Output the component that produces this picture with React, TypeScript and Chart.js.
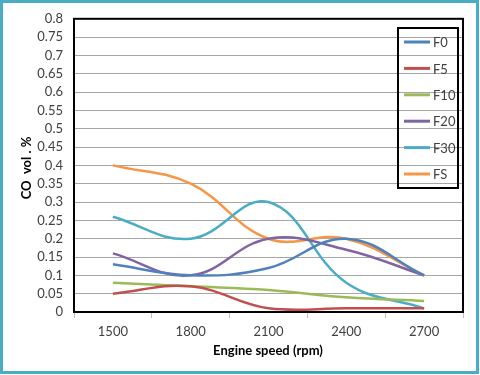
import React, { useEffect, useRef } from "react";
import { Chart, registerables } from "chart.js";

Chart.register(...registerables);

const speeds = ["1500", "1800", "2100", "2400", "2700"];
const F0 = [0.13, 0.1, 0.12, 0.2, 0.1];
const F5 = [0.05, 0.07, 0.01, 0.01, 0.01];
const F10 = [0.08, 0.07, 0.06, 0.04, 0.03];
const F20 = [0.16, 0.1, 0.2, 0.17, 0.1];
const F30 = [0.26, 0.2, 0.3, 0.08, 0.01];
const FS = [0.4, 0.35, 0.2, 0.2, 0.1];

const seriesNames = ["F0", "F5", "F10", "F20", "F30", "FS"];
const seriesColors = ["#4f81bd", "#c0504d", "#9bbb59", "#8064a2", "#4bacc6", "#f79646"];
const seriesData = [F0, F5, F10, F20, F30, FS];

const FONT = "Lato, 'Liberation Sans', sans-serif";

const decorPlugin = {
  id: "decor",
  afterDraw(chart: any) {
    const ctx = chart.ctx;
    const a = chart.chartArea;
    ctx.save();
    // outer border
    ctx.strokeStyle = "#4bacc6";
    ctx.lineWidth = 3;
    ctx.strokeRect(1.5, 1.5, 476, 371);
    // plot frame
    ctx.strokeStyle = "#000";
    ctx.lineWidth = 2;
    ctx.strokeRect(a.left, a.top, a.right - a.left, a.bottom - a.top);
    // legend box
    const lx = 398, ly = 28, lw = 60, lh = 160;
    ctx.lineWidth = 2;
    ctx.strokeRect(lx, ly, lw, lh);
    ctx.font = "13px " + FONT;
    ctx.textBaseline = "middle";
    ctx.textAlign = "left";
    seriesNames.forEach((n, i) => {
      const y = 42 + i * 26.4;
      ctx.strokeStyle = seriesColors[i];
      ctx.lineWidth = 3;
      ctx.beginPath();
      ctx.moveTo(404, y);
      ctx.lineTo(430, y);
      ctx.stroke();
      ctx.fillStyle = "#404040";
      ctx.fillText(n, 433, y + 1);
    });
    // axis titles
    ctx.fillStyle = "#000";
    ctx.font = "bold 13px " + FONT;
    ctx.textAlign = "center";
    ctx.fillText("Engine speed (rpm)", 268, 351);
    ctx.translate(27, 168);
    ctx.rotate(-Math.PI / 2);
    ctx.fillText("CO  vol . %", 0, 0);
    ctx.restore();
  },
};

export default function App() {
  const ref = useRef<HTMLCanvasElement>(null);
  useEffect(() => {
    document.body.style.margin = "0";
    const chart = new Chart(ref.current!, {
      type: "line",
      data: {
        labels: speeds,
        datasets: seriesData.map((d, i) => ({
          label: seriesNames[i],
          data: d,
          borderColor: seriesColors[i],
          backgroundColor: seriesColors[i],
          borderWidth: 2.5,
          pointRadius: 0,
          tension: 0.4,
          fill: false,
        })),
      },
      options: {
        animation: false,
        responsive: false,
        layout: { padding: { top: 16, right: 17, left: 0, bottom: 0 } },
        plugins: { legend: { display: false }, tooltip: { enabled: false } },
        scales: {
          x: {
            offset: true,
            grid: {
              offset: true,
              drawOnChartArea: false,
              drawTicks: true,
              tickLength: 6,
              color: "#bfbfbf",
            },
            border: { display: false },
            ticks: { font: { family: FONT, size: 13 }, color: "#404040", padding: 6 },
            afterFit: (s: any) => {
              s.height = 63;
            },
          },
          y: {
            min: 0,
            max: 0.8,
            ticks: {
              stepSize: 0.05,
              autoSkip: false,
              font: { family: FONT, size: 13 },
              color: "#404040",
              padding: 11,
              callback: (v: any) => String(Math.round(Number(v) * 100) / 100),
            },
            grid: { drawTicks: false, color: "#a6a6a6", lineWidth: 1 },
            border: { display: false },
            afterFit: (s: any) => {
              s.width = 74;
            },
          },
        },
      },
      plugins: [decorPlugin],
    });
    return () => chart.destroy();
  }, []);
  return <canvas ref={ref} width={480} height={375} style={{ display: "block" }} />;
}
